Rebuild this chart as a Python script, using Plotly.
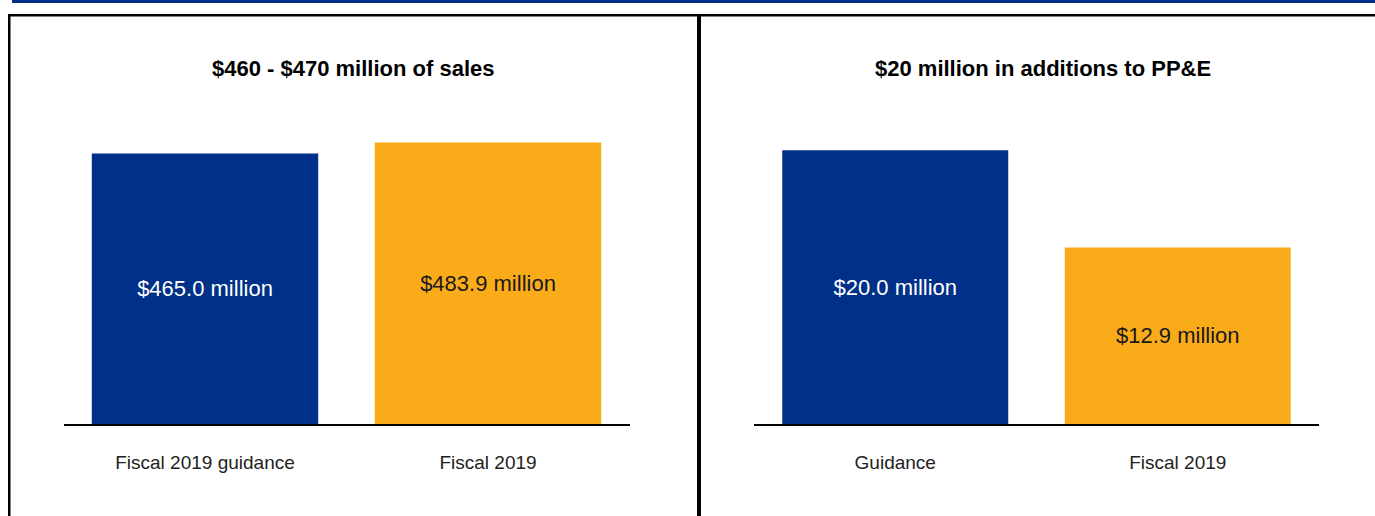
import plotly.graph_objects as go

W, H = 1375, 516

# ---- data ----
sales_categories = ["Fiscal 2019 guidance", "Fiscal 2019"]
sales_values = [465.0, 483.9]
sales_labels = ["$465.0 million", "$483.9 million"]

ppe_categories = ["Guidance", "Fiscal 2019"]
ppe_values = [20.0, 12.9]
ppe_labels = ["$20.0 million", "$12.9 million"]

titles = ["$460 - $470 million of sales", "$20 million in additions to PP&E"]

BLUE = "#003087"
ORANGE = "#F9AB1A"
bar_colors = [BLUE, ORANGE]
text_colors = ["white", "#1a1a1a"]

FONT = "Liberation Sans Narrow, Arial Narrow, Liberation Sans, Arial, sans-serif"

def px_x(x):
    return x / W

def px_y(y):
    return 1 - y / H

fig = go.Figure()

fig.add_trace(go.Bar(
    x=sales_categories, y=sales_values, text=sales_labels,
    marker=dict(color=bar_colors, line=dict(width=0)),
    textposition="inside", insidetextanchor="middle", textangle=0,
    textfont=dict(family=FONT, size=22, color=text_colors),
    xaxis="x", yaxis="y", hoverinfo="skip", showlegend=False,
))
fig.add_trace(go.Bar(
    x=ppe_categories, y=ppe_values, text=ppe_labels,
    marker=dict(color=bar_colors, line=dict(width=0)),
    textposition="inside", insidetextanchor="middle", textangle=0,
    textfont=dict(family=FONT, size=22, color=text_colors),
    xaxis="x2", yaxis="y2", hoverinfo="skip", showlegend=False,
))

y_dom = [px_y(424), px_y(100)]
xcommon = dict(showline=True, linecolor="black", linewidth=2, showgrid=False,
               zeroline=False, ticks="", ticklabelstandoff=20,
               tickfont=dict(family=FONT, size=19, color="#222222"), fixedrange=True)
ycommon = dict(visible=False, showgrid=False, zeroline=False, fixedrange=True)

fig.update_layout(
    width=W, height=H,
    margin=dict(l=0, r=0, t=0, b=0),
    paper_bgcolor="white", plot_bgcolor="white",
    bargap=0.2,
    xaxis=dict(domain=[px_x(63.5), px_x(629.5)], anchor="y", **xcommon),
    yaxis=dict(domain=y_dom, range=[0, 557], anchor="x", **ycommon),
    xaxis2=dict(domain=[px_x(754), px_x(1319)], anchor="y2", **xcommon),
    yaxis2=dict(domain=y_dom, range=[0, 23.67], anchor="x2", **ycommon),
    uniformtext=dict(mode=False),
)

# titles
for t, cx in zip(titles, [353, 1043]):
    fig.add_annotation(text="<b>" + t + "</b>", xref="paper", yref="paper",
                       x=px_x(cx), y=px_y(68), xanchor="center", yanchor="middle",
                       showarrow=False, font=dict(family=FONT, size=22, color="black"))

# frame decorations
shapes = [
    # blue band on top
    dict(type="rect", xref="paper", yref="paper", x0=px_x(12), x1=1, y0=px_y(3), y1=1,
         fillcolor=BLUE, line=dict(width=0)),
    # top black line
    dict(type="rect", xref="paper", yref="paper", x0=px_x(8), x1=1, y0=px_y(16.5), y1=px_y(14),
         fillcolor="black", line=dict(width=0)),
    # left border
    dict(type="rect", xref="paper", yref="paper", x0=px_x(8), x1=px_x(10.5), y0=0, y1=px_y(14),
         fillcolor="black", line=dict(width=0)),
    # middle divider
    dict(type="rect", xref="paper", yref="paper", x0=px_x(697), x1=px_x(701), y0=0, y1=px_y(14),
         fillcolor="black", line=dict(width=0)),
]
fig.update_layout(shapes=shapes)

fig.write_html("out.html", config={"displayModeBar": False},
               post_script="document.body.style.margin='0';document.body.style.overflow='hidden';")
